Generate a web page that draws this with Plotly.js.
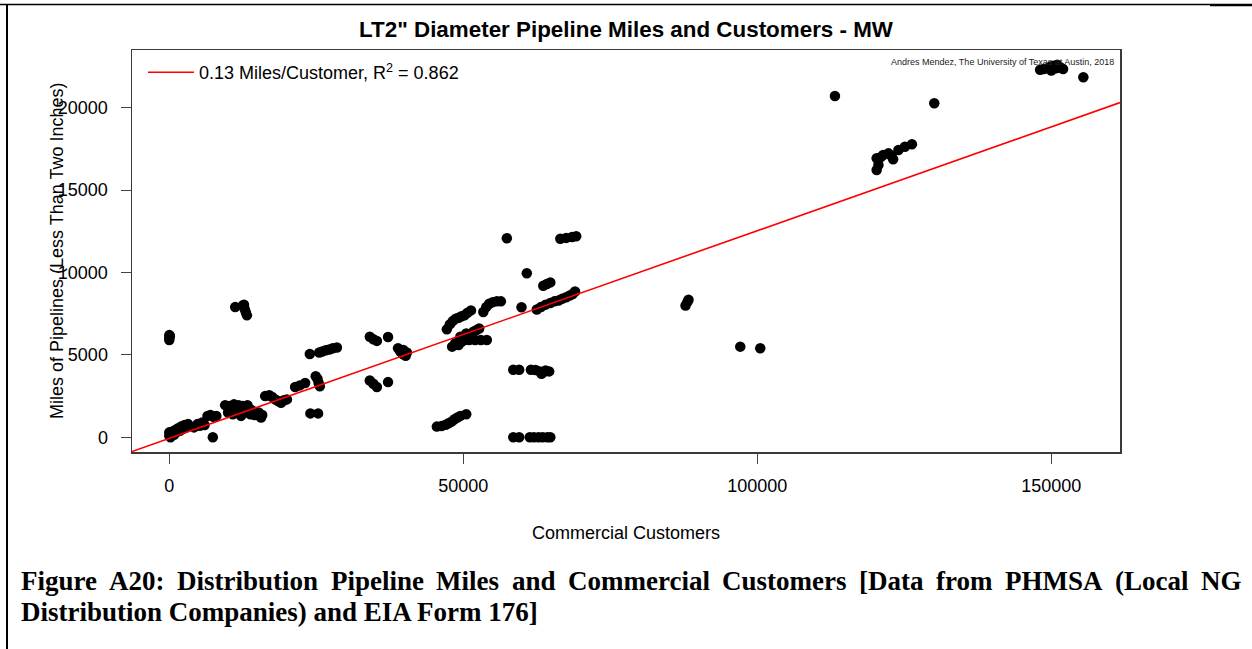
<!DOCTYPE html>
<html>
<head>
<meta charset="utf-8">
<script src="https://cdn.plot.ly/plotly-3.0.1.min.js"></script>
<style>
  html, body { margin: 0; padding: 0; background: #ffffff; }
  #chart { width: 1252px; height: 649px; }
</style>
</head>
<body>
<div id="chart"></div>
<script>
// ---------------- data ----------------
const customers = [
  0, 0, 200, 400, 600, 800, 1000, 1200, 1500, 1800, 2000, 2300, 2600, 2900, 3200,
  4200, 4800, 5200, 5600, 6000,
  6500, 7000, 7500, 8000,
  7400,
  0, 0, 0, 100,
  11200, 12500, 12800, 13000, 13200, 12700,
  9500, 10200, 11000, 11800, 12500, 13300, 10000, 10800, 11500, 12200, 13000, 13800, 14500, 15200, 15600, 14000, 15800,
  16300, 17000, 17500, 18000, 18500, 19000, 19500, 20000,
  21400, 22200, 23100,
  23900, 25500, 26000, 26600, 27200, 27800, 28500,
  24900, 25200, 25400, 25600,
  24000, 25300,
  34100, 34700, 35300, 37200,
  34100, 34700, 35300, 37200,
  38900, 39300, 39700, 40200, 40400, 39800,
  45500, 46300, 47000, 47500, 48000, 48500, 49000, 49500, 50500,
  47200, 47700, 48200, 48700, 49200, 49700, 50200, 50700, 51300,
  48100, 48600, 49200, 49700, 50200, 50700, 51200, 51700, 52200, 52700, 51000, 52000, 53000, 54000, 49500, 50500,
  57400,
  66500, 67500, 68500, 69200,
  60800,
  63600, 64200, 64800,
  59900,
  53400, 53900, 54400, 55000, 55700, 56400,
  62500, 63200, 64000, 64800, 65500, 66200, 66800, 67500, 68100, 68600, 69000,
  58500, 59500, 61500, 62300, 63000, 63600, 64000, 64600, 63300,
  58500, 59500, 61300, 62000, 62800, 63500, 64300, 64800,
  87800, 88100, 88300,
  97100, 100500,
  113200, 130100,
  120300, 120600, 120300, 121400, 122300, 123100, 124000, 125100, 126300, 121000, 122800,
  148100, 148700, 149300, 149900, 150400, 150900, 151500, 152000, 150000, 151000,
  155450
];
const pipelineMiles = [
  100, 300, 0, 200, 350, 150, 450, 300, 550, 400, 650, 500, 750, 600, 800,
  600, 800, 700, 900, 750,
  1300, 1350, 1250, 1300,
  0,
  5900, 6050, 6200, 6150,
  7900, 8000, 7800, 7600, 7400, 8050,
  1950, 1900, 2000, 1950, 1900, 1950, 1500, 1400, 1600, 1300, 1500, 1400, 1350, 1500, 1200, 1650, 1350,
  2500, 2550, 2450, 2300, 2200, 2100, 2250, 2300,
  3050, 3150, 3300,
  5050, 5150, 5200, 5280, 5330, 5400, 5450,
  3700, 3550, 3300, 3100,
  1450, 1450,
  6100, 5950, 5850, 6090,
  3450, 3250, 3050, 3350,
  5400, 5200, 5050, 4950, 5150, 5300,
  650, 680, 760, 850, 950, 1100, 1200, 1300, 1400,
  6550, 6850, 7050, 7200, 7250, 7350, 7400, 7550, 7700,
  5500, 5700, 5600, 5800, 5900, 6000, 6200, 6400, 6500, 6600, 5900, 5900, 5900, 5900, 6100, 6300,
  12080,
  12050, 12100, 12150, 12200,
  9950,
  9200, 9300, 9400,
  7890,
  7600, 7900, 8100, 8200, 8250, 8250,
  7750, 7900, 8050, 8150, 8250, 8300, 8400, 8500, 8600, 8700, 8850,
  4100, 4100, 4100, 4080, 4000, 3950, 4050, 4000, 3850,
  0, 0, 0, 0, 0, 0, 0, 0,
  8000, 8200, 8350,
  5500, 5400,
  20710, 20270,
  16220, 16520, 16930, 17130, 17230, 16870, 17430, 17630, 17780, 17000, 17100,
  22300, 22350, 22400, 22500, 22550, 22400, 22450, 22350, 22250, 22600,
  21850
];
// least-squares fit shown in the legend
const fitSlope = 0.126;      // miles per customer
const fitIntercept = -63;
const fitLabel = "0.13 Miles/Customer, R<sup>2</sup> = 0.862";

// axis set-up
const xRange = [-6344, 161684];
const yRange = [-892, 23501];
const xTicks = [0, 50000, 100000, 150000];
const yTicks = [0, 5000, 10000, 15000, 20000];

const chartTitle = 'LT2" Diameter Pipeline Miles and Customers - MW';
const xTitle = "Commercial Customers";
const yTitle = "Miles of Pipelines (Less Than Two Inches)";
const creditText = "Andres Mendez, The University of Texas at Austin, 2018";
const captionLine1 = "Figure A20: Distribution Pipeline Miles and Commercial Customers [Data from PHMSA (Local NG";
const captionLine2 = "Distribution Companies) and EIA Form 176]";

// ---------------- layout helpers (pixel -> paper) ----------------
const W = 1252, H = 649;
const plotL = 132, plotR = 1120, plotT = 50, plotB = 452;
const px = p => (p - plotL) / (plotR - plotL);
const py = p => (plotB - p) / (plotB - plotT);

const SANS = '"Liberation Sans", Arial, sans-serif';
const SERIF = '"Liberation Serif", "Times New Roman", serif';

// fit line spans the x axis range
const fitX = xRange.slice();
const fitY = fitX.map(x => fitSlope * x + fitIntercept);

const traces = [
  {
    x: customers, y: pipelineMiles, type: 'scatter', mode: 'markers',
    marker: { color: '#000000', size: 10.5, line: { width: 0 } },
    showlegend: false, hoverinfo: 'x+y'
  },
  {
    x: fitX, y: fitY, type: 'scatter', mode: 'lines',
    line: { color: '#ff0000', width: 1.6 },
    name: fitLabel, showlegend: true
  }
];

const annotations = [
  { text: creditText, xref: 'paper', yref: 'paper', x: px(1116), y: py(62),
    xanchor: 'right', yanchor: 'middle', showarrow: false,
    font: { family: SANS, size: 9, color: '#222' } },
  { text: yTitle, xref: 'paper', yref: 'paper', x: px(57), y: 0.5, textangle: -90,
    xanchor: 'center', yanchor: 'middle', showarrow: false,
    font: { family: SANS, size: 18, color: '#000' } }
];

// caption: first line justified between the page margins, second line left aligned
const capFontSize = 27;
const ctx = document.createElement('canvas').getContext('2d');
ctx.font = 'bold ' + capFontSize + 'px "Liberation Serif"';
const capLeft = 20, capRight = 1240;
const words = captionLine1.split(' ');
const widths = words.map(w => ctx.measureText(w).width);
const gap = (capRight - capLeft - widths.reduce((a, b) => a + b, 0)) / (words.length - 1);
let cx = capLeft;
words.forEach((w, i) => {
  annotations.push({ text: w, xref: 'paper', yref: 'paper', x: px(cx), y: py(581),
    xanchor: 'left', yanchor: 'middle', showarrow: false, borderpad: 0,
    font: { family: SERIF, size: capFontSize, color: '#000', weight: 'bold' } });
  cx += widths[i] + gap;
});
annotations.push({ text: captionLine2, xref: 'paper', yref: 'paper', x: px(capLeft), y: py(612),
  xanchor: 'left', yanchor: 'middle', showarrow: false, borderpad: 0,
  font: { family: SERIF, size: capFontSize, color: '#000', weight: 'bold' } });

// page frame lines of the scanned figure
const shapes = [
  { type: 'line', xref: 'paper', yref: 'paper', x0: px(7), x1: px(7), y0: py(4), y1: py(H + 2),
    line: { color: '#000', width: 2 } },
  { type: 'line', xref: 'paper', yref: 'paper', x0: px(0), x1: px(1210), y0: py(4.5), y1: py(4.5),
    line: { color: '#000', width: 1.5 } },
  { type: 'line', xref: 'paper', yref: 'paper', x0: px(1210), x1: px(W), y0: py(5), y1: py(5),
    line: { color: '#000', width: 2.5 } }
];

const axisCommon = {
  showgrid: false, zeroline: false, ticks: 'outside', ticklen: 10, tickwidth: 1,
  tickcolor: '#444', showline: true, mirror: true, linecolor: '#3a3a3a', linewidth: 1.5,
  tickformat: 'd', tickfont: { family: SANS, size: 18, color: '#000' }, automargin: false
};

const layout = {
  width: W, height: H,
  paper_bgcolor: '#ffffff', plot_bgcolor: '#ffffff',
  margin: { l: plotL, r: W - plotR, t: plotT, b: H - plotB, pad: 0 },
  title: { text: chartTitle, font: { family: SANS, size: 22.4, color: '#000', weight: 'bold' },
           x: 0.5, xref: 'paper', xanchor: 'center', y: 1 - 29 / H, yref: 'container', yanchor: 'middle' },
  xaxis: Object.assign({}, axisCommon, { range: xRange, tickvals: xTicks, ticklabelstandoff: 7,
           title: { text: xTitle, standoff: 31, font: { family: SANS, size: 18, color: '#000' } } }),
  yaxis: Object.assign({}, axisCommon, { range: yRange, tickvals: yTicks, ticklabelstandoff: 9 }),
  showlegend: true,
  legend: { x: px(143), y: py(54), xanchor: 'left', yanchor: 'top', bgcolor: 'rgba(0,0,0,0)',
            borderwidth: 0, font: { family: SANS, size: 18, color: '#000' }, itemwidth: 46 },
  annotations: annotations,
  shapes: shapes
};

Plotly.newPlot('chart', traces, layout, { staticPlot: true, displayModeBar: false });
</script>
</body>
</html>
